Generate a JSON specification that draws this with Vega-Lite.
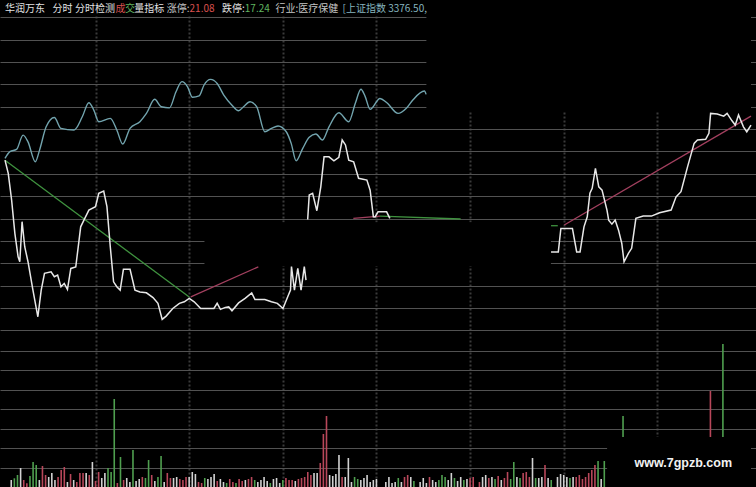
{
  "$schema": "https://vega.github.io/schema/vega-lite/v6.json",
  "width": 756,
  "height": 487,
  "autosize": {"type": "none"},
  "padding": 0,
  "background": "#000000",
  "config": {
    "view": {"stroke": null},
    "axis": {"minExtent": 0, "maxExtent": 0, "labels": false, "ticks": false, "domain": false, "title": null}
  },
  "datasets": {
    "vol": [
      {"m":3,"v":70,"t":"f"},{"m":4,"v":87,"t":"d"},{"m":5,"v":120,"t":"d"},{"m":6,"v":190,"t":"f"},{"m":7,"v":70,"t":"u"},{"m":8,"v":37,"t":"u"},{"m":9,"v":110,"t":"d"},{"m":10,"v":250,"t":"d"},{"m":11,"v":220,"t":"d"},{"m":12,"v":70,"t":"f"},
      {"m":13,"v":210,"t":"u"},{"m":14,"v":120,"t":"u"},{"m":15,"v":100,"t":"f"},{"m":16,"v":140,"t":"f"},{"m":17,"v":70,"t":"f"},{"m":18,"v":100,"t":"u"},{"m":19,"v":170,"t":"u"},{"m":20,"v":200,"t":"u"},{"m":21,"v":50,"t":"f"},{"m":22,"v":130,"t":"u"},
      {"m":23,"v":70,"t":"f"},{"m":24,"v":50,"t":"u"},{"m":25,"v":140,"t":"u"},{"m":26,"v":140,"t":"u"},{"m":27,"v":140,"t":"f"},{"m":28,"v":120,"t":"u"},{"m":29,"v":250,"t":"f"},{"m":30,"v":60,"t":"u"},{"m":31,"v":150,"t":"u"},{"m":32,"v":90,"t":"f"},
      {"m":33,"v":140,"t":"f"},{"m":34,"v":190,"t":"d"},{"m":35,"v":150,"t":"d"},{"m":36,"v":880,"t":"d"},{"m":37,"v":40,"t":"u"},{"m":38,"v":300,"t":"d"},{"m":39,"v":70,"t":"u"},{"m":40,"v":90,"t":"f"},{"m":41,"v":50,"t":"f"},{"m":42,"v":370,"t":"d"},
      {"m":43,"v":60,"t":"f"},{"m":44,"v":80,"t":"f"},{"m":45,"v":100,"t":"u"},{"m":46,"v":90,"t":"d"},{"m":47,"v":270,"t":"d"},{"m":48,"v":120,"t":"u"},{"m":49,"v":60,"t":"f"},{"m":50,"v":100,"t":"d"},{"m":51,"v":310,"t":"d"},{"m":52,"v":50,"t":"f"},
      {"m":53,"v":140,"t":"u"},{"m":54,"v":90,"t":"u"},{"m":55,"v":90,"t":"f"},{"m":56,"v":100,"t":"f"},{"m":57,"v":80,"t":"u"},{"m":58,"v":70,"t":"u"},{"m":59,"v":100,"t":"u"},{"m":60,"v":100,"t":"f"},{"m":61,"v":150,"t":"f"},{"m":62,"v":130,"t":"f"},
      {"m":63,"v":50,"t":"u"},{"m":64,"v":40,"t":"u"},{"m":65,"v":90,"t":"d"},{"m":66,"v":80,"t":"f"},{"m":67,"v":100,"t":"f"},{"m":68,"v":130,"t":"f"},{"m":69,"v":60,"t":"u"},{"m":70,"v":80,"t":"f"},{"m":71,"v":50,"t":"f"},{"m":72,"v":40,"t":"d"},
      {"m":73,"v":80,"t":"u"},{"m":74,"v":50,"t":"u"},{"m":75,"v":40,"t":"d"},{"m":76,"v":80,"t":"u"},{"m":77,"v":60,"t":"u"},{"m":78,"v":70,"t":"f"},{"m":79,"v":80,"t":"u"},{"m":80,"v":100,"t":"u"},{"m":81,"v":70,"t":"d"},{"m":82,"v":50,"t":"f"},
      {"m":83,"v":70,"t":"f"},{"m":84,"v":100,"t":"f"},{"m":85,"v":60,"t":"f"},{"m":86,"v":40,"t":"d"},{"m":87,"v":80,"t":"f"},{"m":88,"v":90,"t":"f"},{"m":89,"v":40,"t":"f"},{"m":90,"v":70,"t":"d"},{"m":91,"v":90,"t":"u"},{"m":92,"v":70,"t":"u"},
      {"m":93,"v":70,"t":"u"},{"m":94,"v":60,"t":"f"},{"m":95,"v":80,"t":"u"},{"m":96,"v":90,"t":"u"},{"m":97,"v":100,"t":"u"},{"m":98,"v":150,"t":"u"},{"m":99,"v":120,"t":"u"},{"m":100,"v":140,"t":"f"},{"m":101,"v":140,"t":"f"},{"m":102,"v":240,"t":"u"},
      {"m":103,"v":530,"t":"u"},{"m":104,"v":710,"t":"u"},{"m":105,"v":120,"t":"f"},{"m":106,"v":110,"t":"f"},{"m":107,"v":130,"t":"f"},{"m":108,"v":320,"t":"f"},{"m":109,"v":100,"t":"u"},{"m":110,"v":100,"t":"f"},{"m":111,"v":290,"t":"f"},{"m":112,"v":50,"t":"f"},
      {"m":113,"v":100,"t":"d"},{"m":114,"v":80,"t":"d"},{"m":115,"v":70,"t":"f"},{"m":116,"v":90,"t":"f"},{"m":117,"v":120,"t":"f"},{"m":118,"v":50,"t":"f"},{"m":119,"v":70,"t":"f"},{"m":120,"v":80,"t":"f"},
      {"m":123,"v":50,"t":"f"},{"m":124,"v":100,"t":"f"},{"m":125,"v":40,"t":"f"},{"m":126,"v":50,"t":"f"},{"m":127,"v":90,"t":"d"},{"m":128,"v":50,"t":"f"},{"m":129,"v":100,"t":"u"},{"m":130,"v":120,"t":"u"},{"m":131,"v":100,"t":"f"},{"m":132,"v":60,"t":"d"},
      {"m":134,"v":50,"t":"f"},{"m":135,"v":90,"t":"f"},{"m":136,"v":40,"t":"f"},{"m":137,"v":100,"t":"u"},{"m":138,"v":70,"t":"f"},{"m":139,"v":50,"t":"f"},{"m":140,"v":70,"t":"d"},{"m":141,"v":120,"t":"d"},{"m":142,"v":100,"t":"d"},{"m":143,"v":70,"t":"f"},
      {"m":144,"v":140,"t":"f"},{"m":145,"v":90,"t":"d"},{"m":146,"v":60,"t":"f"},{"m":147,"v":100,"t":"f"},{"m":148,"v":70,"t":"d"},{"m":149,"v":80,"t":"f"},{"m":150,"v":90,"t":"u"},{"m":151,"v":100,"t":"u"},{"m":153,"v":50,"t":"u"},{"m":154,"v":100,"t":"f"},
      {"m":155,"v":120,"t":"f"},{"m":156,"v":90,"t":"u"},{"m":157,"v":100,"t":"f"},{"m":158,"v":80,"t":"d"},{"m":159,"v":110,"t":"u"},{"m":160,"v":70,"t":"f"},{"m":161,"v":90,"t":"u"},{"m":162,"v":150,"t":"u"},{"m":163,"v":80,"t":"d"},{"m":164,"v":250,"t":"d"},
      {"m":165,"v":100,"t":"f"},{"m":166,"v":90,"t":"d"},{"m":167,"v":140,"t":"u"},{"m":168,"v":150,"t":"u"},{"m":169,"v":100,"t":"u"},{"m":170,"v":290,"t":"f"},{"m":171,"v":90,"t":"d"},{"m":172,"v":90,"t":"f"},{"m":173,"v":100,"t":"f"},{"m":174,"v":220,"t":"u"},
      {"m":175,"v":90,"t":"f"},{"m":176,"v":70,"t":"d"},{"m":178,"v":100,"t":"f"},{"m":179,"v":130,"t":"f"},{"m":180,"v":120,"t":"f"},{"m":181,"v":100,"t":"f"},{"m":182,"v":90,"t":"d"},{"m":183,"v":100,"t":"f"},{"m":184,"v":100,"t":"u"},{"m":185,"v":120,"t":"u"},
      {"m":186,"v":80,"t":"u"},{"m":187,"v":100,"t":"u"},{"m":188,"v":140,"t":"u"},{"m":189,"v":170,"t":"u"},{"m":190,"v":220,"t":"u"},{"m":191,"v":260,"t":"d"},{"m":192,"v":80,"t":"f"},{"m":193,"v":260,"t":"d"},
      {"m":199,"v":710,"t":"d"},{"m":227,"v":960,"t":"u"},{"m":231,"v":1430,"t":"d"}
    ],
    "masks": [
      {"m0":64.9,"m1":175.9,"p0":18.788,"p1":18.984},
      {"m0":136.0,"m1":240,"p0":19.476,"p1":19.977},
      {"m0":193.9,"m1":240,"p0":17.8,"p1":18.023},
      {"m0":1,"m1":136.0,"p0":19.905,"p1":19.977}
    ],
    "lines": [
      {"s":"c","g":"c","m":1.0,"p":19.269},{"s":"c","g":"c","m":2.58,"p":19.299},{"s":"c","g":"c","m":4.70,"p":19.309},{"s":"c","g":"c","m":6.79,"p":19.373},{"s":"c","g":"c","m":8.37,"p":19.343},
      {"s":"c","g":"c","m":10.71,"p":19.254},{"s":"c","g":"c","m":12.07,"p":19.306},{"s":"c","g":"c","m":14.18,"p":19.410},{"s":"c","g":"c","m":16.81,"p":19.452},{"s":"c","g":"c","m":18.93,"p":19.403},
      {"s":"c","g":"c","m":23.13,"p":19.396},{"s":"c","g":"c","m":25.76,"p":19.455},{"s":"c","g":"c","m":27.87,"p":19.518},{"s":"c","g":"c","m":29.45,"p":19.485},{"s":"c","g":"c","m":31.04,"p":19.433},
      {"s":"c","g":"c","m":34.73,"p":19.448},{"s":"c","g":"c","m":36.82,"p":19.396},{"s":"c","g":"c","m":38.72,"p":19.333},{"s":"c","g":"c","m":41.06,"p":19.403},{"s":"c","g":"c","m":44.22,"p":19.433},
      {"s":"c","g":"c","m":46.31,"p":19.470},{"s":"c","g":"c","m":48.96,"p":19.533},{"s":"c","g":"c","m":51.05,"p":19.500},{"s":"c","g":"c","m":53.70,"p":19.495},{"s":"c","g":"c","m":55.79,"p":19.567},
      {"s":"c","g":"c","m":57.69,"p":19.612},{"s":"c","g":"c","m":59.49,"p":19.589},{"s":"c","g":"c","m":61.07,"p":19.542},{"s":"c","g":"c","m":63.19,"p":19.548},{"s":"c","g":"c","m":64.77,"p":19.597},
      {"s":"c","g":"c","m":66.86,"p":19.622},{"s":"c","g":"c","m":68.97,"p":19.604},{"s":"c","g":"c","m":71.09,"p":19.552},{"s":"c","g":"c","m":73.72,"p":19.507},{"s":"c","g":"c","m":75.83,"p":19.482},
      {"s":"c","g":"c","m":77.42,"p":19.500},{"s":"c","g":"c","m":79.50,"p":19.522},{"s":"c","g":"c","m":81.62,"p":19.500},{"s":"c","g":"c","m":84.25,"p":19.388},{"s":"c","g":"c","m":86.36,"p":19.403},
      {"s":"c","g":"c","m":88.48,"p":19.414},{"s":"c","g":"c","m":91.11,"p":19.388},{"s":"c","g":"c","m":92.69,"p":19.336},{"s":"c","g":"c","m":94.27,"p":19.258},{"s":"c","g":"c","m":96.39,"p":19.314},
      {"s":"c","g":"c","m":98.47,"p":19.363},{"s":"c","g":"c","m":100.59,"p":19.378},{"s":"c","g":"c","m":102.71,"p":19.351},{"s":"c","g":"c","m":104.80,"p":19.410},{"s":"c","g":"c","m":107.96,"p":19.473},
      {"s":"c","g":"c","m":111.12,"p":19.433},{"s":"c","g":"c","m":113.24,"p":19.515},{"s":"c","g":"c","m":115.04,"p":19.578},{"s":"c","g":"c","m":116.40,"p":19.545},{"s":"c","g":"c","m":117.98,"p":19.488},
      {"s":"c","g":"c","m":121.14,"p":19.537},{"s":"c","g":"c","m":123.26,"p":19.519},{"s":"c","g":"c","m":126.93,"p":19.470},{"s":"c","g":"c","m":129.58,"p":19.493},{"s":"c","g":"c","m":131.67,"p":19.530},
      {"s":"c","g":"c","m":135.37,"p":19.570},{"s":"c","g":"c","m":135.91,"p":19.555},

      {"s":"w","g":"w1","m":1.0,"p":19.261},{"s":"w","g":"w1","m":2.04,"p":19.202},{"s":"w","g":"w1","m":3.12,"p":19.083},{"s":"w","g":"w1","m":4.16,"p":18.934},{"s":"w","g":"w1","m":5.20,"p":18.829},
      {"s":"w","g":"w1","m":5.74,"p":18.807},{"s":"w","g":"w1","m":6.47,"p":18.986},{"s":"w","g":"w1","m":7.32,"p":18.874},{"s":"w","g":"w1","m":8.37,"p":18.807},{"s":"w","g":"w1","m":9.95,"p":18.680},
      {"s":"w","g":"w1","m":11.53,"p":18.561},{"s":"w","g":"w1","m":12.60,"p":18.680},{"s":"w","g":"w1","m":13.65,"p":18.755},{"s":"w","g":"w1","m":15.76,"p":18.762},{"s":"w","g":"w1","m":16.81,"p":18.740},
      {"s":"w","g":"w1","m":17.85,"p":18.747},{"s":"w","g":"w1","m":18.93,"p":18.695},{"s":"w","g":"w1","m":19.97,"p":18.710},{"s":"w","g":"w1","m":21.01,"p":18.683},{"s":"w","g":"w1","m":22.09,"p":18.777},
      {"s":"w","g":"w1","m":23.67,"p":18.784},{"s":"w","g":"w1","m":25.25,"p":18.963},{"s":"w","g":"w1","m":26.29,"p":18.993},{"s":"w","g":"w1","m":27.87,"p":19.038},{"s":"w","g":"w1","m":29.99,"p":19.053},
      {"s":"w","g":"w1","m":31.04,"p":19.113},{"s":"w","g":"w1","m":32.62,"p":19.123},{"s":"w","g":"w1","m":33.66,"p":19.053},{"s":"w","g":"w1","m":34.73,"p":18.874},{"s":"w","g":"w1","m":35.78,"p":18.717},
      {"s":"w","g":"w1","m":36.82,"p":18.695},{"s":"w","g":"w1","m":37.90,"p":18.680},{"s":"w","g":"w1","m":38.94,"p":18.773},{"s":"w","g":"w1","m":41.06,"p":18.773},{"s":"w","g":"w1","m":42.64,"p":18.680},
      {"s":"w","g":"w1","m":44.22,"p":18.672},{"s":"w","g":"w1","m":46.31,"p":18.668},{"s":"w","g":"w1","m":48.42,"p":18.647},{"s":"w","g":"w1","m":50.00,"p":18.621},{"s":"w","g":"w1","m":51.36,"p":18.549},
      {"s":"w","g":"w1","m":52.63,"p":18.564},{"s":"w","g":"w1","m":54.75,"p":18.598},{"s":"w","g":"w1","m":56.87,"p":18.621},{"s":"w","g":"w1","m":58.45,"p":18.628},{"s":"w","g":"w1","m":60.03,"p":18.643},
      {"s":"w","g":"w1","m":61.61,"p":18.628},{"s":"w","g":"w1","m":63.70,"p":18.598},{"s":"w","g":"w1","m":65.81,"p":18.598},{"s":"w","g":"w1","m":67.93,"p":18.598},{"s":"w","g":"w1","m":68.97,"p":18.621},
      {"s":"w","g":"w1","m":70.02,"p":18.594},{"s":"w","g":"w1","m":71.60,"p":18.603},{"s":"w","g":"w1","m":72.67,"p":18.605},{"s":"w","g":"w1","m":73.72,"p":18.588},{"s":"w","g":"w1","m":75.84,"p":18.623},
      {"s":"w","g":"w1","m":77.92,"p":18.643},{"s":"w","g":"w1","m":80.04,"p":18.668},{"s":"w","g":"w1","m":81.08,"p":18.638},{"s":"w","g":"w1","m":84.25,"p":18.638},{"s":"w","g":"w1","m":86.36,"p":18.628},
      {"s":"w","g":"w1","m":88.26,"p":18.621},{"s":"w","g":"w1","m":90.06,"p":18.598},{"s":"w","g":"w1","m":91.64,"p":18.653},{"s":"w","g":"w1","m":92.47,"p":18.680},{"s":"w","g":"w1","m":92.78,"p":18.785},
      {"s":"w","g":"w1","m":93.73,"p":18.680},{"s":"w","g":"w1","m":94.80,"p":18.777},{"s":"w","g":"w1","m":95.85,"p":18.680},{"s":"w","g":"w1","m":96.89,"p":18.785},{"s":"w","g":"w1","m":97.43,"p":18.725},

      {"s":"w","g":"w2","m":97.97,"p":18.996},{"s":"w","g":"w2","m":98.47,"p":19.105},{"s":"w","g":"w2","m":99.55,"p":19.113},{"s":"w","g":"w2","m":100.91,"p":19.035},{"s":"w","g":"w2","m":102.17,"p":19.142},
      {"s":"w","g":"w2","m":103.22,"p":19.276},{"s":"w","g":"w2","m":104.80,"p":19.276},{"s":"w","g":"w2","m":106.38,"p":19.258},{"s":"w","g":"w2","m":107.96,"p":19.274},{"s":"w","g":"w2","m":109.03,"p":19.351},
      {"s":"w","g":"w2","m":110.08,"p":19.329},{"s":"w","g":"w2","m":111.12,"p":19.261},{"s":"w","g":"w2","m":112.70,"p":19.254},{"s":"w","g":"w2","m":114.28,"p":19.180},{"s":"w","g":"w2","m":116.94,"p":19.172},
      {"s":"w","g":"w2","m":117.98,"p":19.127},{"s":"w","g":"w2","m":119.02,"p":19.008},{"s":"w","g":"w2","m":119.56,"p":19.007},{"s":"w","g":"w2","m":120.51,"p":19.030},{"s":"w","g":"w2","m":123.26,"p":19.030},
      {"s":"w","g":"w2","m":124.30,"p":19.001},

      {"s":"w","g":"w3","m":175.94,"p":18.851},{"s":"w","g":"w3","m":178.27,"p":18.851},{"s":"w","g":"w3","m":179.09,"p":18.956},{"s":"w","g":"w3","m":182.79,"p":18.956},{"s":"w","g":"w3","m":184.15,"p":18.851},
      {"s":"w","g":"w3","m":185.23,"p":18.851},{"s":"w","g":"w3","m":186.49,"p":18.963},{"s":"w","g":"w3","m":187.54,"p":19.008},{"s":"w","g":"w3","m":188.39,"p":19.113},{"s":"w","g":"w3","m":189.12,"p":19.135},
      {"s":"w","g":"w3","m":190.16,"p":19.224},{"s":"w","g":"w3","m":191.23,"p":19.142},{"s":"w","g":"w3","m":192.28,"p":19.127},{"s":"w","g":"w3","m":193.86,"p":19.038},{"s":"w","g":"w3","m":194.40,"p":18.993},
      {"s":"w","g":"w3","m":195.44,"p":18.975},{"s":"w","g":"w3","m":196.48,"p":18.993},{"s":"w","g":"w3","m":197.56,"p":18.948},{"s":"w","g":"w3","m":198.60,"p":18.889},{"s":"w","g":"w3","m":199.33,"p":18.807},
      {"s":"w","g":"w3","m":200.72,"p":18.844},{"s":"w","g":"w3","m":201.76,"p":18.867},{"s":"w","g":"w3","m":203.12,"p":19.001},{"s":"w","g":"w3","m":205.46,"p":19.011},{"s":"w","g":"w3","m":208.09,"p":19.011},
      {"s":"w","g":"w3","m":210.71,"p":19.026},{"s":"w","g":"w3","m":214.41,"p":19.038},{"s":"w","g":"w3","m":215.99,"p":19.097},{"s":"w","g":"w3","m":217.57,"p":19.120},{"s":"w","g":"w3","m":219.69,"p":19.232},
      {"s":"w","g":"w3","m":221.78,"p":19.336},{"s":"w","g":"w3","m":222.85,"p":19.351},{"s":"w","g":"w3","m":225.47,"p":19.354},{"s":"w","g":"w3","m":226.52,"p":19.381},{"s":"w","g":"w3","m":227.06,"p":19.470},
      {"s":"w","g":"w3","m":229.17,"p":19.467},{"s":"w","g":"w3","m":231.26,"p":19.458},{"s":"w","g":"w3","m":232.34,"p":19.470},{"s":"w","g":"w3","m":233.92,"p":19.437},{"s":"w","g":"w3","m":234.96,"p":19.418},
      {"s":"w","g":"w3","m":236.00,"p":19.463},{"s":"w","g":"w3","m":237.58,"p":19.410},{"s":"w","g":"w3","m":238.65,"p":19.388},{"s":"w","g":"w3","m":240.0,"p":19.418},

      {"s":"dn","g":"t1","m":1.0,"p":19.261},{"s":"dn","g":"t1","m":60.03,"p":18.649},
      {"s":"up","g":"t2","m":60.53,"p":18.650},{"s":"up","g":"t2","m":82.16,"p":18.784},
      {"s":"up","g":"t3","m":112.6,"p":19.001},{"s":"up","g":"t3","m":121.14,"p":19.011},
      {"s":"dn","g":"t4","m":121.14,"p":19.011},{"s":"dn","g":"t4","m":146.97,"p":18.998},
      {"s":"dn","g":"t5","m":175.94,"p":18.968},{"s":"dn","g":"t5","m":178.10,"p":18.968},
      {"s":"up","g":"t6","m":180.17,"p":18.971},{"s":"up","g":"t6","m":240.0,"p":19.458}
    ],
    "hdr": [
      {"text":"华润万东","m":1.0,"t":"w"},
      {"text":"分时","m":16.18,"t":"w"},
      {"text":"分时检测","m":23.45,"t":"w"},
      {"text":"成","m":36.41,"t":"r"},
      {"text":"交","m":39.41,"t":"n"},
      {"text":"量","m":42.42,"t":"w"},
      {"text":"指标","m":45.58,"t":"w"},
      {"text":"涨停:","m":52.85,"t":"g"},
      {"text":"21.08","m":60.12,"t":"r"},
      {"text":"跌停:","m":70.56,"t":"w"},
      {"text":"17.24","m":77.83,"t":"n"},
      {"text":"行业:医疗保健","m":87.63,"t":"g"},
      {"text":"[上证指数 3376.50,","m":109.13,"t":"c"}
    ],
    "wm": [
      {"text":"www.7gpzb.com","m":202.7,"p":17.907}
    ]
  },
  "resolve": {"scale": {"y": "independent", "color": "independent"}, "axis": {"y": "independent"}},
  "layer": [
    {
      "data": {"name": "vol"},
      "mark": {"type": "bar", "width": 1.6},
      "encoding": {
        "x": {"field": "m", "type": "quantitative", "scale": {"domain": [1, 240], "nice": false, "zero": false},
              "axis": {"orient": "bottom", "values": [30, 60, 90, 120, 150, 180, 210], "grid": true, "gridColor": "#3a3a3a", "gridWidth": 2, "gridDash": [2, 2]}},
        "y": {"field": "v", "type": "quantitative", "scale": {"domain": [0, 4870], "nice": false},
              "axis": {"orient": "right", "values": [195, 390, 585, 780, 975, 1170, 1365], "grid": true, "gridColor": "#525252", "gridWidth": 1.2}},
        "color": {"field": "t", "type": "nominal", "scale": {"domain": ["u", "d", "f"], "range": ["#b8475a", "#4f9f4f", "#d2d2d2"]}, "legend": null}
      }
    },
    {
      "data": {"name": "masks"},
      "mark": {"type": "rect", "color": "#000000"},
      "encoding": {
        "x": {"field": "m0", "type": "quantitative", "scale": {"domain": [1, 240], "nice": false, "zero": false},
              "axis": {"orient": "bottom", "values": [30, 60, 90, 120, 150, 180, 210], "grid": true, "gridColor": "#3a3a3a", "gridWidth": 2, "gridDash": [2, 2]}},
        "x2": {"field": "m1"},
        "y": {"field": "p0", "type": "quantitative", "scale": {"domain": [17.8, 19.977], "nice": false, "zero": false},
              "axis": {"orient": "left", "values": [18.5, 18.6, 18.7, 18.8, 18.9, 19.0, 19.1, 19.2, 19.3, 19.4, 19.5, 19.6, 19.7, 19.8, 19.9], "grid": true, "gridColor": "#525252", "gridWidth": 1.2}},
        "y2": {"field": "p1"}
      }
    },
    {
      "data": {"name": "lines"},
      "transform": [{"filter": "datum.s === 'up' || datum.s === 'dn'"}],
      "mark": {"type": "line", "strokeWidth": 1.3},
      "encoding": {
        "x": {"field": "m", "type": "quantitative", "scale": {"domain": [1, 240], "nice": false, "zero": false},
              "axis": {"orient": "bottom", "values": [30, 60, 90, 120, 150, 180, 210], "grid": true, "gridColor": "#3a3a3a", "gridWidth": 2, "gridDash": [2, 2]}},
        "y": {"field": "p", "type": "quantitative", "scale": {"domain": [17.8, 19.977], "nice": false, "zero": false}, "axis": null},
        "detail": {"field": "g", "type": "nominal"},
        "color": {"field": "s", "type": "nominal", "scale": {"domain": ["up", "dn"], "range": ["#a3405f", "#3f923f"]}, "legend": null}
      }
    },
    {
      "data": {"name": "lines"},
      "transform": [{"filter": "datum.s === 'c'"}],
      "mark": {"type": "line", "strokeWidth": 1.4, "interpolate": "monotone", "color": "#72a4ae"},
      "encoding": {
        "x": {"field": "m", "type": "quantitative", "scale": {"domain": [1, 240], "nice": false, "zero": false},
              "axis": {"orient": "bottom", "values": [30, 60, 90, 120, 150, 180, 210], "grid": true, "gridColor": "#3a3a3a", "gridWidth": 2, "gridDash": [2, 2]}},
        "y": {"field": "p", "type": "quantitative", "scale": {"domain": [17.8, 19.977], "nice": false, "zero": false}, "axis": null},
        "detail": {"field": "g", "type": "nominal"}
      }
    },
    {
      "data": {"name": "lines"},
      "transform": [{"filter": "datum.s === 'w'"}],
      "mark": {"type": "line", "strokeWidth": 1.5, "color": "#e8e8e8"},
      "encoding": {
        "x": {"field": "m", "type": "quantitative", "scale": {"domain": [1, 240], "nice": false, "zero": false},
              "axis": {"orient": "bottom", "values": [30, 60, 90, 120, 150, 180, 210], "grid": true, "gridColor": "#3a3a3a", "gridWidth": 2, "gridDash": [2, 2]}},
        "y": {"field": "p", "type": "quantitative", "scale": {"domain": [17.8, 19.977], "nice": false, "zero": false}, "axis": null},
        "detail": {"field": "g", "type": "nominal"}
      }
    },
    {
      "data": {"name": "hdr"},
      "mark": {"type": "text", "align": "left", "baseline": "middle", "font": "Noto Sans CJK SC", "fontSize": 10},
      "encoding": {
        "x": {"field": "m", "type": "quantitative", "scale": {"domain": [1, 240], "nice": false, "zero": false},
              "axis": {"orient": "bottom", "values": [30, 60, 90, 120, 150, 180, 210], "grid": true, "gridColor": "#3a3a3a", "gridWidth": 2, "gridDash": [2, 2]}},
        "y": {"datum": 19.939, "type": "quantitative", "scale": {"domain": [17.8, 19.977], "nice": false, "zero": false}, "axis": null},
        "text": {"field": "text", "type": "nominal"},
        "color": {"field": "t", "type": "nominal", "scale": {"domain": ["w", "g", "r", "n", "c"], "range": ["#e2e2e2", "#c4c4c4", "#d9504f", "#5fb35f", "#86b4bf"]}, "legend": null}
      }
    },
    {
      "data": {"name": "wm"},
      "mark": {"type": "text", "align": "left", "baseline": "middle", "font": "Liberation Sans", "fontSize": 12.5, "fontWeight": "bold", "color": "#f2f2f2"},
      "encoding": {
        "x": {"field": "m", "type": "quantitative", "scale": {"domain": [1, 240], "nice": false, "zero": false},
              "axis": {"orient": "bottom", "values": [30, 60, 90, 120, 150, 180, 210], "grid": true, "gridColor": "#3a3a3a", "gridWidth": 2, "gridDash": [2, 2]}},
        "y": {"field": "p", "type": "quantitative", "scale": {"domain": [17.8, 19.977], "nice": false, "zero": false}, "axis": null},
        "text": {"field": "text", "type": "nominal"}
      }
    }
  ]
}
